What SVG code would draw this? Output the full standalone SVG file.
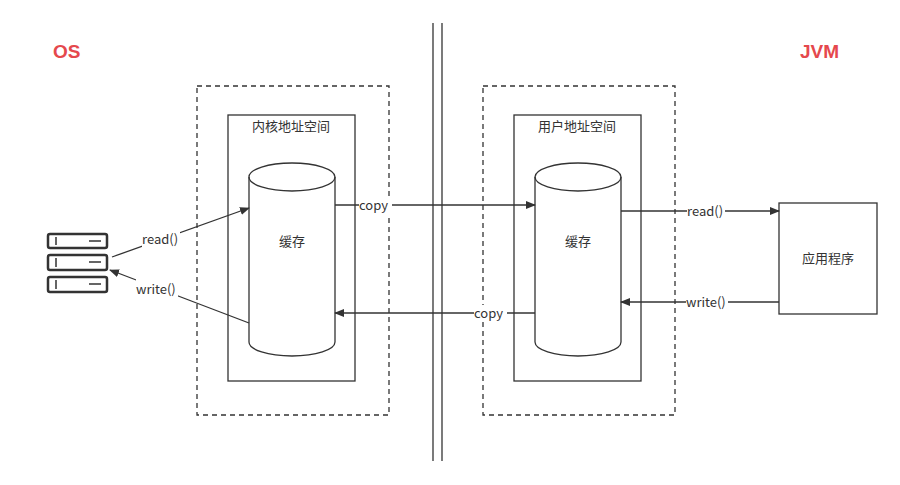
<svg xmlns="http://www.w3.org/2000/svg" width="900" height="485" viewBox="0 0 900 485">
<style>
.t{font-family:"Microsoft YaHei","Noto Sans CJK SC","Liberation Sans",sans-serif;font-size:13px;fill:#333}
.dash{fill:none;stroke:#333;stroke-width:1.3;stroke-dasharray:5 4}
.box{fill:#fff;stroke:#333;stroke-width:1.3}
.c{fill:none;stroke:#333;stroke-width:1.3}
.lbl{fill:#fff}
.h{font-family:"Liberation Sans",sans-serif;font-size:19px;font-weight:bold;fill:#e5484d}
</style>
<defs><marker id="a" markerWidth="10" markerHeight="8" refX="9" refY="4" orient="auto" markerUnits="userSpaceOnUse"><path d="M0,0L10,4L0,8z" fill="#333"/></marker></defs>
<rect width="900" height="485" fill="#fff"/>
<text class="h" x="53" y="58">OS</text>
<text class="h" x="800" y="58">JVM</text>
<g id="divider"><line x1="433" y1="23" x2="433" y2="461" stroke="#333" stroke-width="1.3"/><line x1="442" y1="23" x2="442" y2="461" stroke="#333" stroke-width="1.3"/></g>
<g id="kernel">
<rect class="dash" x="197" y="86" width="192" height="329"/>
<rect class="box" x="228" y="115" width="127" height="266"/>
<text class="t" x="291" y="131" text-anchor="middle">内核地址空间</text>
<path class="box" d="M249,177 V342 A43,14 0 0 0 335,342 V177 A43,14 0 0 0 249,177 Z"/>
<path class="c" d="M249,177 A43,14 0 0 0 335,177"/>
<text class="t" x="292" y="246" text-anchor="middle">缓存</text>
</g>
<g id="user">
<rect class="dash" x="483" y="86" width="192" height="329"/>
<rect class="box" x="514" y="115" width="127" height="266"/>
<text class="t" x="577" y="131" text-anchor="middle">用户地址空间</text>
<path class="box" d="M535,177 V342 A43,14 0 0 0 621,342 V177 A43,14 0 0 0 535,177 Z"/>
<path class="c" d="M535,177 A43,14 0 0 0 621,177"/>
<text class="t" x="578" y="246" text-anchor="middle">缓存</text>
</g>
<g id="app"><rect class="box" x="779" y="203" width="98" height="111"/><text class="t" x="828" y="263" text-anchor="middle">应用程序</text></g>
<g id="disk" fill="#fff" stroke="#333" stroke-width="2.5">
<rect x="48" y="234" width="59" height="14" rx="2"/><rect x="48" y="255" width="59" height="15" rx="2"/><rect x="48" y="277" width="59" height="15" rx="2"/>
<path d="M56,237v8M56,258v9M56,280v9M89,241h12M89,262h12M89,284h12" stroke-width="1.5"/>
</g>
<g id="connectors" class="c">
<path class="c" d="M112,257L249,208" marker-end="url(#a)"/>
<path class="c" d="M249,323L110,270" marker-end="url(#a)"/>
<path class="c" d="M335,205H535" marker-end="url(#a)"/>
<path class="c" d="M535,313H335" marker-end="url(#a)"/>
<path class="c" d="M621,211H779" marker-end="url(#a)"/>
<path class="c" d="M779,302H621" marker-end="url(#a)"/>
</g>
<g id="labels">
<rect class="lbl" x="142" y="230" width="38" height="18"/><text class="t" x="142" y="244">read()</text>
<rect class="lbl" x="136" y="279" width="42" height="18"/><text class="t" x="136" y="294">write()</text>
<rect class="lbl" x="359" y="197" width="33" height="17"/><text class="t" x="359" y="210">copy</text>
<rect class="lbl" x="474" y="305" width="33" height="17"/><text class="t" x="474" y="318">copy</text>
<rect class="lbl" x="687" y="203" width="38" height="17"/><text class="t" x="687" y="216">read()</text>
<rect class="lbl" x="686" y="294" width="42" height="17"/><text class="t" x="686" y="307">write()</text>
</g>
</svg>
